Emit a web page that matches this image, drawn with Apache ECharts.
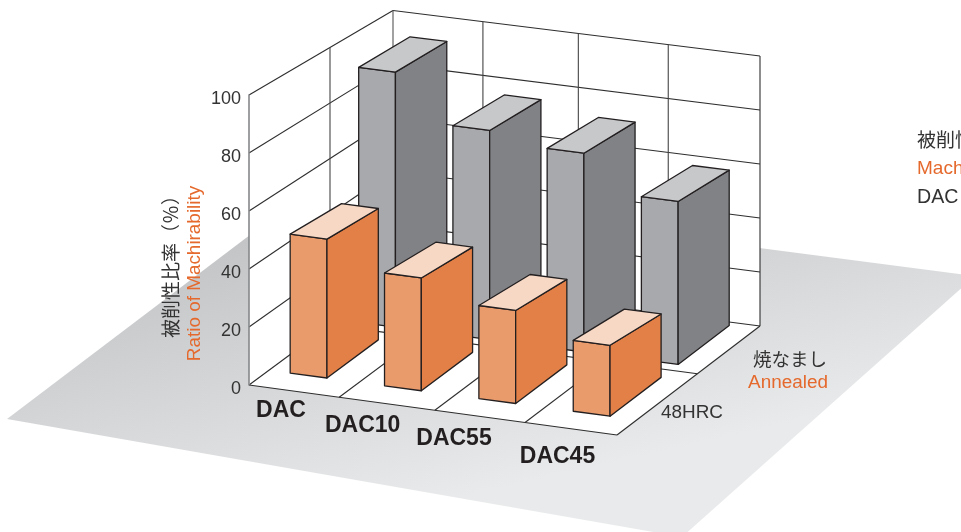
<!DOCTYPE html>
<html>
<head>
<meta charset="utf-8">
<style>html,body{margin:0;padding:0;background:#fff;overflow:hidden}#c{width:961px;height:532px}</style>
<script src="https://cdn.jsdelivr.net/npm/echarts@6/dist/echarts.min.js"></script>
</head>
<body>
<div id="c"></div>
<script>
// Machinability ratio of die steels, shown as a 3D column chart
const steelNames = ['DAC', 'DAC10', 'DAC55', 'DAC45'];
const annealedValues = [48.4, 39.3, 32.4, 24.7];
const hardenedValues = [92.2, 75.5, 71.7, 58.7];
const yTicks = [0, 20, 40, 60, 80, 100];
const floorDivisions = [0.245, 0.505, 0.75];
const depthDivision = 0.5625;

const INK = '#231f20';
const LINE = '#2e2e2e';
const ORANGE_TEXT = '#e5692c';
const CJK = '"Noto Sans CJK JP"';
const LATIN = '"Liberation Sans"';

// Box layout in floor units: u runs along the steels, v runs into the depth
const barLeft = 0.0575, barStep = 0.2565, barWidth = 0.1, barDepth = 0.357;
const rowFront = { front: 0.139, back: 0.615 };
const topTaper = 2.6;
const palette = {
  front: { top: '#f6d8c5', face: '#e99b6c', side: '#e38047' },
  back: { top: '#c7c8ca', face: '#a7a9ac', side: '#808285' }
};

// Heights shrink toward the rear; the grid height is the front-plane scale
function depthScale(u, v) {
  return 1 - v * (0.076 - 0.007 * u);
}
function project(api, u, v, h) {
  const base = api.coord([u, 0]);
  const top = api.coord([u, h]);
  return [
    base[0] + v * (144 - u),
    base[1] + 50 * u + v * (-106.5 - 2.5 * u) - (base[1] - top[1]) * depthScale(u, v)
  ];
}

function renderFrame(params, api) {
  const P = (u, v, h) => project(api, u, v, h);
  const children = [];
  const wall = pts => children.push({ type: 'polygon', shape: { points: pts }, style: { fill: '#fff', stroke: null } });
  const line = (a, b, stroke, w) => children.push({
    type: 'line',
    shape: { x1: a[0], y1: a[1], x2: b[0], y2: b[1] },
    style: { stroke: stroke || LINE, lineWidth: w || 1.1, fill: null }
  });
  wall([P(0, 0, 0), P(0, 1, 0), P(0, 1, 100), P(0, 0, 100)]);
  wall([P(0, 1, 0), P(1, 1, 0), P(1, 1, 100), P(0, 1, 100)]);
  wall([P(0, 0, 0), P(1, 0, 0), P(1, 1, 0), P(0, 1, 0)]);
  yTicks.forEach(t => {
    line(P(0, 0, t), P(0, 1, t));
    line(P(0, 1, t), P(1, 1, t));
  });
  floorDivisions.forEach(u => {
    line(P(u, 0, 0), P(u, 1, 0));
    line(P(u, 1, 0), P(u, 1, 100), '#444');
  });
  line(P(0, depthDivision, 0), P(1, depthDivision, 0));
  line(P(0, depthDivision, 0), P(0, depthDivision, 100), '#444');
  line(P(0, 0, 0), P(1, 0, 0));
  line(P(1, 0, 0), P(1, 1, 0));
  line(P(1, 1, 0), P(1, 1, 100));
  line(P(0, 1, 0), P(0, 1, 100), '#555');
  return { type: 'group', children };
}

function boxRenderer(row) {
  return function (params, api) {
    const i = api.value(0), h = api.value(1);
    const u0 = barLeft + i * barStep, u1 = u0 + barWidth;
    const v0 = rowFront[row], v1 = v0 + barDepth;
    const c = palette[row];
    const P = (u, v, z) => project(api, u, v, z);
    // Rear edge of a box top, a fixed amount shorter than the front edge
    const rear = u => P(u, v1, (h * depthScale(u, v0) - topTaper) / depthScale(u, v1));
    const face = (pts, fill) => ({
      type: 'polygon',
      shape: { points: pts },
      style: { fill, stroke: INK, lineWidth: 1.3, lineJoin: 'round' }
    });
    return {
      type: 'group',
      children: [
        face([P(u0, v0, 0), P(u1, v0, 0), P(u1, v0, h), P(u0, v0, h)], c.face),
        face([P(u1, v0, 0), P(u1, v1, 0), rear(u1), P(u1, v0, h)], c.side),
        face([P(u0, v0, h), P(u1, v0, h), rear(u1), rear(u0)], c.top)
      ]
    };
  };
}

// Free-standing text placed around the box
const steelLabelAt = [[281, 411], [362.7, 426], [454, 439], [557.5, 457]];
function label(text, x, y, font, fill, extra) {
  return Object.assign({
    type: 'text', x, y, z: 20, silent: true,
    style: { text, font, fill, align: 'center', verticalAlign: 'middle', textAlign: 'center', textVerticalAlign: 'middle' }
  }, extra || {});
}
const leftLabel = (text, x, y, font, fill) => ({
  type: 'text', x, y, z: 20, silent: true,
  style: { text, font, fill, align: 'left', verticalAlign: 'middle', textAlign: 'left', textVerticalAlign: 'middle' }
});

const chart = echarts.init(document.getElementById('c'), null, { renderer: 'canvas' });
chart.setOption({
  animation: false,
  backgroundColor: '#fff',
  grid: { left: 249, top: 95, width: 368, height: 290 },
  xAxis: { type: 'value', min: 0, max: 1, show: false },
  yAxis: {
    type: 'value', min: 0, max: 100, interval: 20, z: 3,
    axisLine: { show: true, onZero: false, lineStyle: { color: '#85878a', width: 1.6 } },
    axisTick: { show: false },
    splitLine: { show: false },
    axisLabel: {
      margin: 8,
      formatter: v => '{t|' + v + '}',
      rich: { t: { color: '#333', fontFamily: LATIN, fontSize: 18, padding: [9, 0, 0, 0] } }
    }
  },
  graphic: [
    {
      type: 'polygon', z: -1, silent: true,
      shape: { points: [[7, 419], [310, 189.5], [975, 276], [682, 537]] },
      style: {
        fill: new echarts.graphic.LinearGradient(240, 245, 305, 533, [
          { offset: 0, color: '#c4c5c7' },
          { offset: 1, color: '#e9eaeb' }
        ], true)
      }
    },
    ...steelNames.map((name, i) => label(name, steelLabelAt[i][0], steelLabelAt[i][1], 'bold 23px ' + LATIN, INK)),
    label('48HRC', 692, 412.7, '18.9px ' + LATIN, '#333'),
    label('焼なまし', 790, 358.5, '18.5px ' + CJK, '#333'),
    label('Annealed', 788, 382.7, '18.9px ' + LATIN, ORANGE_TEXT),
    label('被削性比率（％）', 171, 262, '19px ' + CJK, '#333', { rotation: Math.PI / 2 }),
    label('Ratio of Machirability', 195, 273.5, '18.9px ' + LATIN, ORANGE_TEXT, { rotation: Math.PI / 2 }),
    leftLabel('被削性比率', 917, 139.5, '19px ' + CJK, '#333'),
    leftLabel('Machinability', 917, 169, '19px ' + LATIN, ORANGE_TEXT),
    leftLabel('DAC', 917, 198, '19.6px ' + LATIN, '#333')
  ],
  series: [
    { type: 'custom', z: 2, silent: true, renderItem: renderFrame, data: [[0, 0]] },
    { type: 'custom', name: '48HRC', z: 4, silent: true, renderItem: boxRenderer('back'), data: hardenedValues.map((v, i) => [i, v]) },
    { type: 'custom', name: 'Annealed', z: 5, silent: true, renderItem: boxRenderer('front'), data: annealedValues.map((v, i) => [i, v]) }
  ]
});
</script>
</body>
</html>
